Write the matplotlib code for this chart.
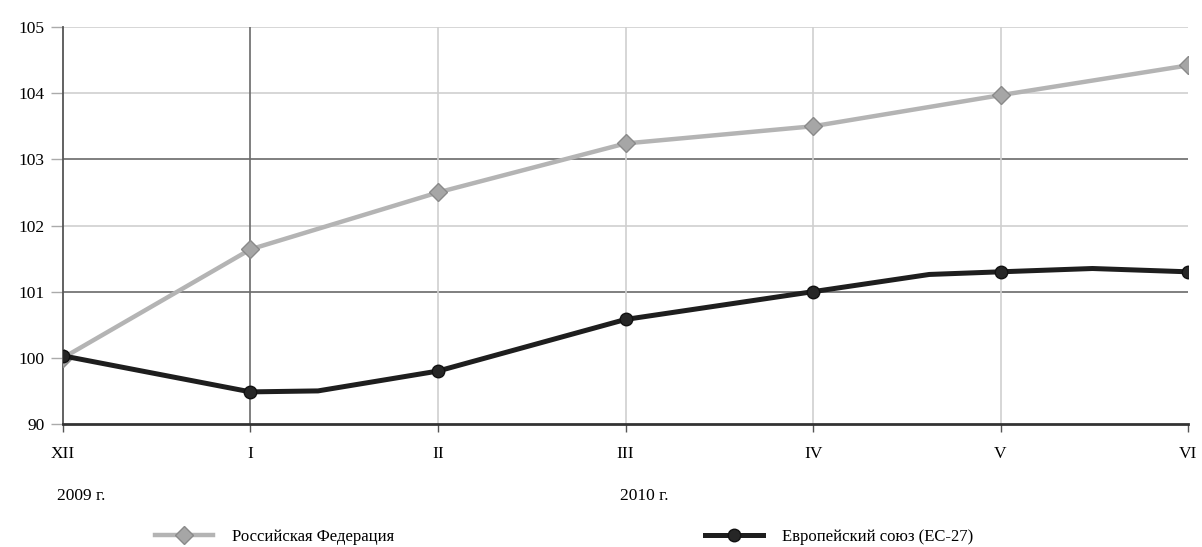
import numpy as np
import matplotlib
matplotlib.use('Agg')
from matplotlib import pyplot as plt
from matplotlib.lines import Line2D

plt.rcParams['font.family'] = ['Liberation Serif', 'DejaVu Serif']

months = ['XII', 'I', 'II', 'III', 'IV', 'V', 'VI']
years = ['2009 г.', '2010 г.']
year_pos = [0, 3]

rf_label = 'Российская Федерация'
rf_x = [0, 1, 2, 3, 4, 5, 6]
rf_val = [100.0, 101.64, 102.5, 103.24, 103.5, 103.97, 104.42]

eu_label = 'Европейский союз (ЕС-27)'
eu_x = [0, 1, 1.36, 2, 3, 4, 4.62, 5, 5.49, 6]
eu_val = [100.03, 94.85, 95.0, 98.0, 100.58, 101.0, 101.26, 101.3, 101.35, 101.3]

yticks = [90, 100, 101, 102, 103, 104, 105]


# 90..100 squeezed into one unit, like the axis below 100
def fwd(v):
    v = np.asarray(v, dtype=float)
    return np.where(v >= 100, v, 100 - (100 - v) / 10)


def inv(p):
    p = np.asarray(p, dtype=float)
    return np.where(p >= 100, p, 100 - (100 - p) * 10)


fig = plt.figure(figsize=(12.02, 5.47), dpi=100)
ax = fig.add_axes([0.0524, 0.2249, 0.936, 0.7257])
ax.set_yscale('function', functions=(fwd, inv))
ax.set_xlim(0, 6)
ax.set_ylim(90, 105)

# grid
light, dark = '#cfcfcf', '#6a6a6a'
for y, c in [(105, light), (104, light), (103, dark), (102, light), (101, dark)]:
    ax.axhline(y, color=c, lw=1.2, zorder=1)
for x in range(1, 6):
    ax.axvline(x, color=dark if x == 1 else light, lw=1.2, zorder=1)

for s in ['top', 'right']:
    ax.spines[s].set_visible(False)
ax.spines['left'].set_color('#555555')
ax.spines['left'].set_linewidth(1.3)
ax.spines['bottom'].set_color('#333333')
ax.spines['bottom'].set_linewidth(2)

rf_line, = ax.plot(rf_x, rf_val, color='#b4b4b4', lw=3.2, marker='D', ms=9,
                   mfc='#a6a6a6', mec='#8a8a8a', mew=1, zorder=3)
eu_line, = ax.plot(eu_x, eu_val, color='#1e1e1e', lw=3.6, marker='o', ms=9,
                   markevery=[0, 1, 3, 4, 5, 7, 9], mfc='#262626',
                   mec='#111111', zorder=4)

ax.set_yticks(yticks)
ax.set_yticklabels([str(t) for t in yticks])
ax.set_xticks(range(len(months)))
ax.set_xticklabels(months)
ax.tick_params(axis='y', length=9, width=1, color='#aaaaaa', pad=4,
               labelsize=12.5)
ax.tick_params(axis='x', length=6, width=1, color='#555555', pad=10,
               labelsize=12.5)

for yr, p in zip(years, year_pos):
    ax.annotate(yr, xy=(p, 0), xycoords=('data', 'axes fraction'),
                xytext=(-4, -52), textcoords='offset points',
                ha='left', va='center', fontsize=12.5)

# one legend per series, each anchored by its left edge
eu_handle = Line2D([], [], color='#1e1e1e', lw=3.6, marker='o', ms=9,
                   mfc='#262626', mec='#111111')
for h, lab, x0 in [(rf_line, rf_label, 0.129), (eu_handle, eu_label, 0.5865)]:
    fig.legend([h], [lab], loc='center left', bbox_to_anchor=(x0, 0.018),
               frameon=False, fontsize=12, handlelength=3.5,
               handletextpad=1.1, borderpad=0, borderaxespad=0)

fig.savefig('out.png', dpi=100)
